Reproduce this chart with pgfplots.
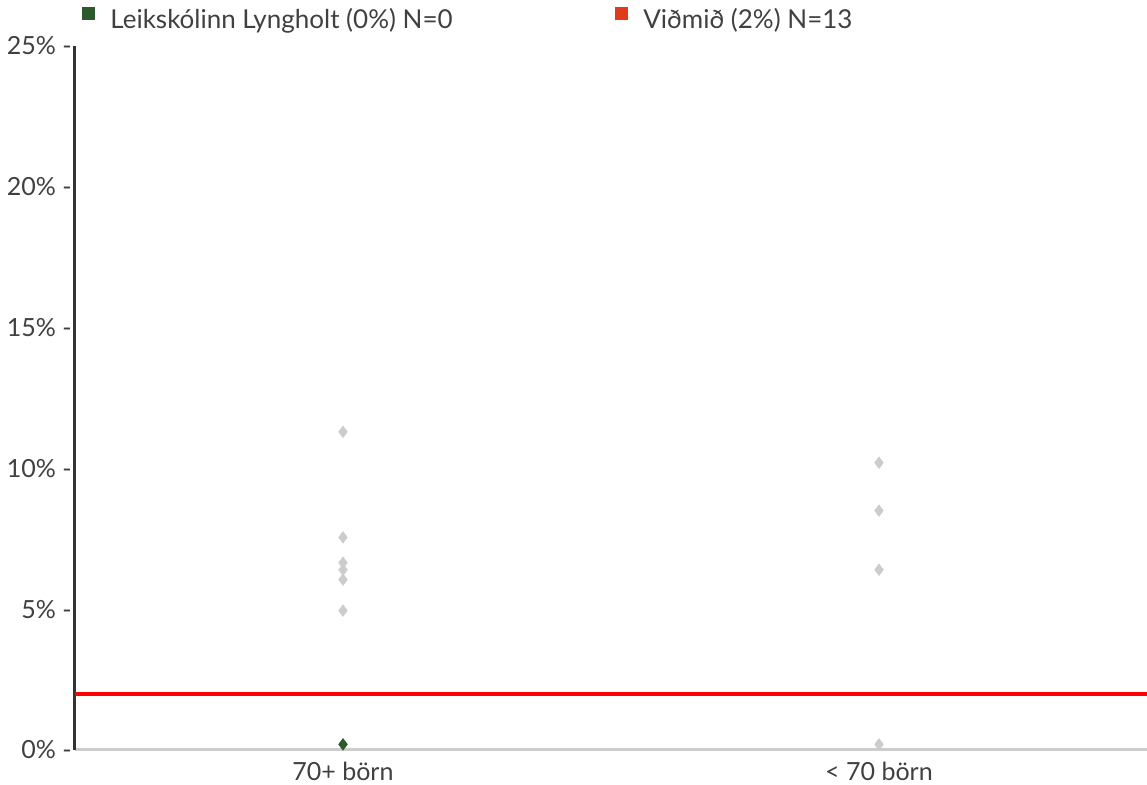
\documentclass[border=0pt]{standalone}
\usepackage{pgfplots}
\pgfplotsset{compat=1.18}
\usepackage{fontspec}
\setmainfont{Lato}
\definecolor{txt}{HTML}{404040}
\definecolor{ptgray}{HTML}{CCCCCC}
\definecolor{dgreen}{HTML}{2D5A2D}
\definecolor{lred}{HTML}{E03C1C}
\definecolor{axdark}{HTML}{333333}
\begin{document}
\fontsize{13}{15}\selectfont
\begin{tikzpicture}
\useasboundingbox (-37.5pt,-17.5pt) rectangle (536pt,375pt);
\begin{axis}[
  scale only axis, width=536pt, height=352pt,
  at={(0,0)}, anchor=south west,
  xmin=-0.5, xmax=1.5, ymin=0, ymax=25,
  clip=false,
  axis x line*=bottom, axis y line*=left,
  x axis line style={draw=ptgray, line width=1.5pt, -},
  y axis line style={draw=axdark, line width=1.5pt, -},
  xtick={0,1}, xticklabels={70+ börn, < 70 börn},
  ytick={0,5,10,15,20,25},
  yticklabels={0\% -,5\% -,10\% -,15\% -,20\% -,25\% -},
  major tick length=0pt,
  tick label style={text=txt, font=\fontsize{12.5}{14}\selectfont},
  yticklabel style={inner sep=1.5pt},
  xticklabel style={yshift=-1.5pt},
  legend columns=2,
  legend style={at={(axis description cs:0,1)}, anchor=west, xshift=3.5pt, yshift=13pt,
    draw=none, fill=none, inner sep=0pt, column sep=7.5pt,
    nodes={inner sep=0pt, text=txt}, font=\fontsize{13}{15}\selectfont},
  legend image code/.code={\fill[#1] (0pt,0.2pt) rectangle (6.5pt,6.5pt);},
]
\addlegendimage{fill=dgreen, draw=none}
\addlegendentry{\makebox[245pt][l]{Leikskólinn Lyngholt (0\%) N=0}}
\addlegendimage{fill=lred, draw=none}
\addlegendentry{Viðmið (2\%) N=13}
\addplot[only marks, mark=diamond*, mark size=2.8pt, color=ptgray, forget plot]
  coordinates {(0,11.3) (0,7.55) (0,6.65) (0,6.4) (0,6.05) (0,4.95) (0,0.2)
               (1,10.2) (1,8.5) (1,6.4) (1,0.2)};
\addplot[only marks, mark=diamond*, mark size=2.8pt, color=dgreen, forget plot]
  coordinates {(0,0.2)};
\addplot[red, line width=2pt, forget plot] coordinates {(-0.5,2) (1.5,2)};
\end{axis}
\end{tikzpicture}
\end{document}
